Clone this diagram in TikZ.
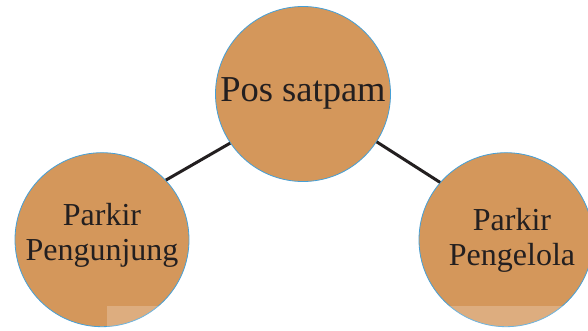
\documentclass[tikz,border=0pt]{standalone}
\usepackage{fontspec}
\setmainfont{Liberation Serif}
\definecolor{circfill}{RGB}{212,151,91}
\definecolor{circline}{RGB}{70,160,215}
\definecolor{darkink}{RGB}{35,31,32}
\begin{document}
\begin{tikzpicture}[x=1pt,y=1pt,
  bubble/.style={circle,fill=circfill,draw=circline,line width=0.8pt,inner sep=0pt,minimum size=174pt},
  bigtext/.style={text=darkink,inner sep=0pt,anchor=base,font=\fontsize{36.5}{40}\selectfont},
  smalltext/.style={text=darkink,inner sep=0pt,anchor=base,font=\fontsize{32}{35}\selectfont},
  link/.style={draw=darkink,line width=3pt}]
\useasboundingbox (0,0) rectangle (588,330);
\fill[white] (0,0) rectangle (588,330);
\node[bubble,minimum size=175pt] (top) at (303,236) {};
\node[bubble] (left) at (102,90.3) {};
\node[bubble] (right) at (506,90.3) {};
\fill[white,opacity=0.22] (107,0) rectangle (588,24.5);
\node[bigtext] (toptext) at (303,228.3) {Pos satpam};
\node[smalltext] (lt1) at (102,105) {Parkir};
\node[smalltext] (lt2) at (102,70) {Pengunjung};
\node[smalltext] (rt1) at (512,99.3) {Parkir};
\node[smalltext] (rt2) at (512,65) {Pengelola};
\draw[link] (top.214) -- (left.43);
\draw[link] (top.327) -- (right.139);
\end{tikzpicture}
\end{document}
